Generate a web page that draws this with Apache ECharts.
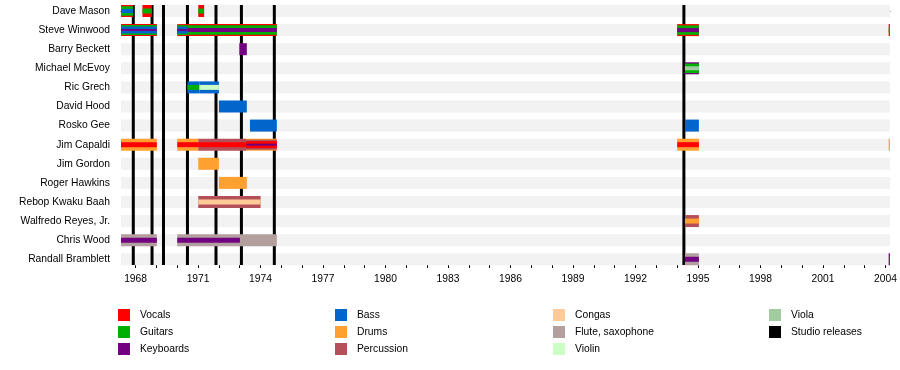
<!DOCTYPE html>
<html><head><meta charset="utf-8">
<script src="https://cdn.jsdelivr.net/npm/echarts@6/dist/echarts.min.js"></script>
<style>html,body{margin:0;padding:0;background:#fff}#c{width:900px;height:370px}</style>
</head><body><div id="c"></div>
<script>
// ---------- data ----------
const members = ['Dave Mason','Steve Winwood','Barry Beckett','Michael McEvoy','Ric Grech','David Hood','Rosko Gee','Jim Capaldi','Jim Gordon','Roger Hawkins','Rebop Kwaku Baah','Walfredo Reyes, Jr.','Chris Wood','Randall Bramblett'];
const roles = ['Vocals','Guitars','Keyboards','Bass','Drums','Percussion','Congas','Flute, saxophone','Violin','Viola'];
const labelYears = [1968,1971,1974,1977,1980,1983,1986,1989,1992,1995,1998,2001,2004];
const minorYears = [1968,1969,1970,1971,1972,1973,1974,1975,1976,1977,1978,1979,1980,1981,1982,1983,1984,1985,1986,1987,1988,1989,1990,1991,1992,1993,1994,1995,1996,1997,1998,1999,2000,2001,2002,2003,2004];
const timelineStart = 1967.3;
const timelineEnd = 2004.21;
const studioReleases = [1967.89, 1968.79, 1969.34, 1970.49, 1971.86, 1973.08, 1974.66, 1994.32];
// [member, from, till, roles from outer to inner]
const spans = [
  ['Dave Mason', 1967.30, 1967.88, ['Vocals','Guitars','Bass']],
  ['Dave Mason', 1968.33, 1968.78, ['Vocals','Guitars']],
  ['Dave Mason', 1971.01, 1971.29, ['Vocals','Guitars']],
  ['Steve Winwood', 1967.30, 1969.02, ['Vocals','Guitars','Bass','Keyboards']],
  ['Steve Winwood', 1970.00, 1970.49, ['Vocals','Guitars','Bass','Keyboards']],
  ['Steve Winwood', 1970.49, 1974.78, ['Vocals','Guitars','Keyboards']],
  ['Steve Winwood', 1994.00, 1995.04, ['Vocals','Guitars','Keyboards']],
  ['Steve Winwood', 2004.15, 2004.21, ['Vocals','Guitars']],
  ['Barry Beckett', 1972.98, 1973.34, ['Keyboards']],
  ['Michael McEvoy', 1994.37, 1995.04, ['Keyboards','Guitars','Viola']],
  ['Ric Grech', 1970.49, 1971.06, ['Bass','Guitars']],
  ['Ric Grech', 1971.06, 1972.00, ['Bass','Violin']],
  ['David Hood', 1972.00, 1973.34, ['Bass']],
  ['Rosko Gee', 1973.49, 1974.78, ['Bass']],
  ['Rosko Gee', 1994.37, 1995.04, ['Bass']],
  ['Jim Capaldi', 1967.30, 1969.02, ['Drums','Vocals']],
  ['Jim Capaldi', 1970.00, 1971.01, ['Drums','Vocals']],
  ['Jim Capaldi', 1971.01, 1973.30, ['Percussion','Vocals']],
  ['Jim Capaldi', 1973.30, 1974.78, ['Drums','Percussion','Vocals','Keyboards']],
  ['Jim Capaldi', 1994.00, 1995.04, ['Drums','Vocals']],
  ['Jim Capaldi', 2004.15, 2004.21, ['Drums']],
  ['Jim Gordon', 1971.01, 1972.00, ['Drums']],
  ['Roger Hawkins', 1972.00, 1973.34, ['Drums']],
  ['Rebop Kwaku Baah', 1971.01, 1974.00, ['Percussion','Congas']],
  ['Walfredo Reyes, Jr.', 1994.37, 1995.04, ['Percussion','Drums']],
  ['Chris Wood', 1967.30, 1969.02, ['Flute, saxophone','Keyboards']],
  ['Chris Wood', 1970.00, 1973.01, ['Flute, saxophone','Keyboards']],
  ['Chris Wood', 1973.01, 1974.78, ['Flute, saxophone']],
  ['Randall Bramblett', 1994.37, 1995.04, ['Flute, saxophone','Keyboards']],
  ['Randall Bramblett', 2004.15, 2004.21, ['Keyboards']]
];

// ---------- styles ----------
const FONT = '"Liberation Sans", Arial, Helvetica, sans-serif';
const FS = 10.3;
const roleColors = {
  'Vocals':'#ff0000','Guitars':'#00b000','Keyboards':'#720080','Bass':'#0066cc',
  'Drums':'#ffa030','Percussion':'#b3505a','Congas':'#ffcc99','Flute, saxophone':'#b49f9f',
  'Violin':'#ccffc4','Viola':'#a0cca0'
};
const LAYER_H = {1:[12], 2:[12,5], 3:[12,9.5,4], 4:[12,10,7,2]};
const BAND_H = 12;
const LINE_TOP = -0.31;
const Y_MIN = -0.5, Y_MAX = 13.3;

const roleData = {};
roles.forEach(r => roleData[r] = []);
spans.forEach(([m, from, till, rs]) => {
  const row = members.indexOf(m);
  rs.forEach((r, k) => roleData[r].push([from, till, row, k, rs.length]));
});

function barItem(params, api) {
  const row = api.value(2);
  const s = api.coord([api.value(0), row]);
  const e = api.coord([api.value(1), row]);
  const h = LAYER_H[api.value(4)][api.value(3)];
  return {type:'rect', shape:{x:s[0], y:s[1]-h/2, width:Math.max(e[0]-s[0],1), height:h},
    style:{fill: api.visual('color')}, z2: api.value(3)};
}

const series = [];
series.push({
  type:'custom', name:'bg', silent:true, z:1,
  data: members.map((m,i)=>[timelineStart, timelineEnd, i]),
  renderItem(params, api){
    const s = api.coord([api.value(0), api.value(2)]);
    const e = api.coord([api.value(1), api.value(2)]);
    return {type:'rect', shape:{x:s[0], y:s[1]-BAND_H/2, width:e[0]-s[0], height:BAND_H}, style:{fill:'#f2f2f2'}};
  }
});
series.push({
  type:'custom', name:'Studio releases', silent:true, z:2,
  itemStyle:{color:'#000'},
  data: studioReleases.map(v=>[v]),
  renderItem(params, api){
    const t = api.coord([api.value(0), LINE_TOP]);
    const b = api.coord([api.value(0), Y_MAX]);
    return {type:'rect', shape:{x:t[0]-1.5, y:t[1], width:3, height:b[1]-t[1]}, style:{fill:'#000'}};
  }
});
roles.forEach(r => {
  series.push({type:'custom', name:r, silent:true, z:3, itemStyle:{color:roleColors[r]},
    data: roleData[r], renderItem: barItem});
});

const legendCols = [
  ['Vocals','Guitars','Keyboards'],
  ['Bass','Drums','Percussion'],
  ['Congas','Flute, saxophone','Violin'],
  ['Viola','Studio releases']
];
const legendLeft = [118, 335, 553, 769];
const legends = legendCols.map((col, i) => ({
  data: col, orient:'vertical', left: legendLeft[i], top: 309,
  icon:'rect', itemWidth:12, itemHeight:12, itemGap:5, selectedMode:false, padding:0,
  textStyle:{fontSize:FS, color:'#000', fontFamily:FONT, padding:[0,0,0,5]}
}));

const chart = echarts.init(document.getElementById('c'), null, {renderer:'canvas'});
chart.setOption({
  animation:false,
  backgroundColor:'#fff',
  textStyle:{fontFamily:FONT},
  grid:{left:121, right:10, top:1.45, bottom:105, containLabel:false},
  legend: legends,
  xAxis:[{
    type:'value', min:timelineStart, max:timelineEnd, position:'bottom',
    axisLine:{show:true, lineStyle:{color:'#000', width:1}},
    axisTick:{show:true, customValues:labelYears, length:5, lineStyle:{color:'#000'}},
    axisLabel:{show:true, customValues:labelYears, formatter:v=>String(v), fontSize:FS, color:'#000', margin:9, fontFamily:FONT},
    splitLine:{show:false}
  },{
    type:'value', min:timelineStart, max:timelineEnd, position:'bottom',
    axisLine:{show:false},
    axisTick:{show:true, customValues:minorYears, length:3, lineStyle:{color:'#000'}},
    axisLabel:{show:false}, splitLine:{show:false}
  }],
  yAxis:{
    type:'value', inverse:true, min:Y_MIN, max:Y_MAX,
    axisLine:{show:false}, axisTick:{show:false}, splitLine:{show:false},
    axisLabel:{show:true, customValues:members.map((m,i)=>i), formatter:v=>members[v], fontSize:FS, color:'#000', margin:11, fontFamily:FONT}
  },
  series: series
});
</script></body></html>
